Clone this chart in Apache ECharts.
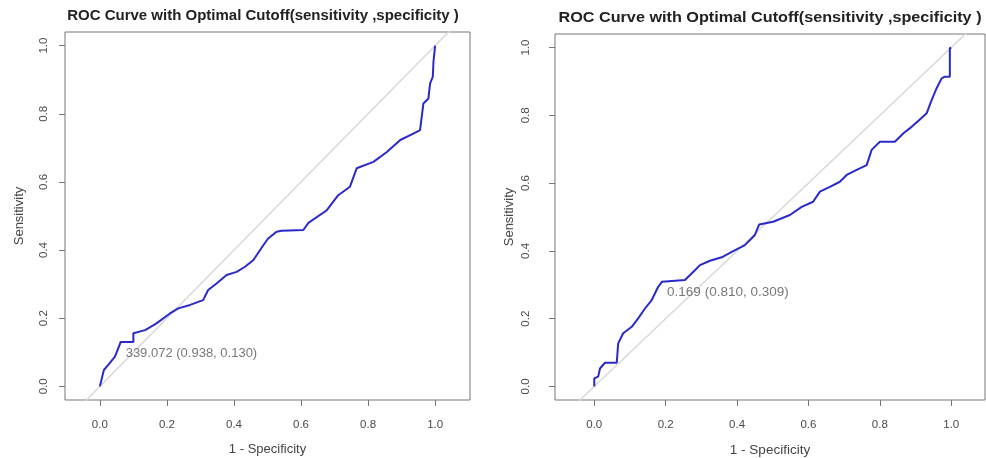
<!DOCTYPE html>
<html>
<head>
<meta charset="utf-8">
<script src="https://cdn.jsdelivr.net/npm/echarts@6/dist/echarts.min.js"></script>
<style>
html,body{margin:0;padding:0;background:#fff;}
#chart{width:986px;height:458px;}
</style>
</head>
<body>
<div id="chart"></div>
<script>
// ---- data ----
const titleText = 'ROC Curve with Optimal Cutoff(sensitivity ,specificity )';
const xAxisName = '1 - Specificity';
const yAxisName = 'Sensitivity';
const tickValues = [0, 0.2, 0.4, 0.6, 0.8, 1.0];
const diagonalEnds = [-0.3, 1.3];

// left panel ROC (x = 1 - specificity, y = sensitivity)
const leftFpr = [0, 0.012, 0.025, 0.045, 0.062, 0.100, 0.100, 0.135, 0.169, 0.209, 0.234, 0.269, 0.308, 0.323, 0.348, 0.378, 0.408, 0.433, 0.458, 0.488, 0.502, 0.527, 0.542, 0.607, 0.622, 0.677, 0.711, 0.746, 0.766, 0.816, 0.856, 0.896, 0.935, 0.955, 0.965, 0.980, 0.985, 0.993, 0.995, 1.0];
const leftTpr = [0, 0.048, 0.063, 0.087, 0.130, 0.130, 0.156, 0.165, 0.185, 0.214, 0.229, 0.239, 0.253, 0.283, 0.302, 0.327, 0.336, 0.351, 0.371, 0.415, 0.434, 0.454, 0.457, 0.459, 0.480, 0.517, 0.561, 0.586, 0.640, 0.659, 0.688, 0.723, 0.742, 0.752, 0.830, 0.845, 0.889, 0.908, 0.952, 1.0];
const leftCutoffThreshold = '339.072';
const leftCutoffSpec = 0.938;
const leftCutoffSens = 0.130;

// right panel ROC
const rightFpr = [0, 0, 0.011, 0.016, 0.030, 0.063, 0.067, 0.081, 0.105, 0.123, 0.142, 0.161, 0.179, 0.190, 0.254, 0.282, 0.296, 0.324, 0.357, 0.385, 0.422, 0.450, 0.462, 0.501, 0.548, 0.581, 0.613, 0.632, 0.660, 0.688, 0.707, 0.735, 0.763, 0.777, 0.800, 0.842, 0.866, 0.889, 0.912, 0.931, 0.945, 0.959, 0.973, 0.982, 0.996, 0.996, 1.0];
const rightTpr = [0, 0.024, 0.029, 0.053, 0.070, 0.070, 0.127, 0.157, 0.176, 0.201, 0.230, 0.255, 0.294, 0.309, 0.314, 0.343, 0.358, 0.371, 0.381, 0.397, 0.417, 0.447, 0.478, 0.486, 0.506, 0.530, 0.545, 0.575, 0.589, 0.604, 0.624, 0.639, 0.653, 0.698, 0.722, 0.722, 0.747, 0.766, 0.788, 0.806, 0.845, 0.880, 0.909, 0.914, 0.914, 0.998, 1.0];
const rightCutoffThreshold = '0.169';
const rightCutoffSpec = 0.810;
const rightCutoffSens = 0.309;

// ---- build ----
const zip = (a, b) => a.map((v, i) => [v, b[i]]);
const fmt = v => v.toFixed(3);
const FONT = '"Liberation Sans", Arial, sans-serif';
const LABEL_COLOR = '#4a4a4a';

function xAx(idx, min, max, nameSize) {
  return {
    type: 'value', gridIndex: idx, min: min, max: max,
    name: xAxisName, nameLocation: 'middle', nameGap: 43,
    nameTextStyle: {fontFamily: FONT, fontSize: nameSize, color: '#444'},
    axisLine: {show: false, onZero: false},
    axisTick: {show: true, customValues: tickValues, length: 6, lineStyle: {color: '#777'}},
    axisLabel: {customValues: tickValues, formatter: v => v.toFixed(1), margin: 19,
      fontFamily: FONT, fontSize: 11.5, color: LABEL_COLOR},
    splitLine: {show: false}
  };
}
function yAx(idx, margin, nameGap) {
  return {
    type: 'value', gridIndex: idx, min: -0.04, max: 1.04,
    name: yAxisName, nameLocation: 'middle', nameGap: nameGap, nameRotate: 90,
    nameTextStyle: {fontFamily: FONT, fontSize: 13, color: '#444'},
    axisLine: {show: false, onZero: false},
    axisTick: {show: true, customValues: tickValues, length: 6, lineStyle: {color: '#777'}},
    axisLabel: {customValues: tickValues, formatter: v => v.toFixed(1), margin: margin, rotate: 90,
      fontFamily: FONT, fontSize: 11.5, color: LABEL_COLOR},
    splitLine: {show: false}
  };
}
function panelSeries(idx, fpr, tpr, thr, spec, sens, fs) {
  return [
    {
      type: 'line', xAxisIndex: idx, yAxisIndex: idx, clip: true, silent: true,
      data: [[diagonalEnds[0], diagonalEnds[0]], [diagonalEnds[1], diagonalEnds[1]]],
      symbol: 'none', lineStyle: {color: '#d9d9d9', width: 1.5}, z: 1
    },
    {
      type: 'line', xAxisIndex: idx, yAxisIndex: idx, clip: true,
      data: zip(fpr, tpr), symbol: 'none',
      lineStyle: {color: '#2a2ac8', width: 2}, z: 3
    },
    {
      type: 'scatter', xAxisIndex: idx, yAxisIndex: idx,
      data: [[1 - spec, sens]], symbolSize: 2,
      itemStyle: {color: '#2a2ac8'},
      label: {show: true, position: 'right', distance: 4, offset: [0, 11],
        formatter: thr + ' (' + fmt(spec) + ', ' + fmt(sens) + ')',
        fontFamily: FONT, fontSize: fs, color: '#555'},
      z: 4
    }
  ];
}

const chart = echarts.init(document.getElementById('chart'), null, {renderer: 'canvas'});
chart.setOption({
  backgroundColor: '#fff',
  animation: false,
  grid: [
    {left: 65, right: 516, top: 32, bottom: 58, outerBoundsMode: 'none', containLabel: false, show: true, borderColor: '#777', borderWidth: 1, backgroundColor: 'transparent'},
    {left: 555, right: 1, top: 34, bottom: 58, outerBoundsMode: 'none', containLabel: false, show: true, borderColor: '#777', borderWidth: 1, backgroundColor: 'transparent'}
  ],
  xAxis: [xAx(0, -0.104, 1.104, 13), xAx(1, -0.11, 1.0945, 13.5)],
  yAxis: [yAx(0, 15, 39), yAx(1, 23, 39)],
  graphic: [
    {type: 'text', x: 263, y: 16, style: {text: titleText, font: 'bold 15px ' + FONT, fill: '#222', textAlign: 'center', textVerticalAlign: 'middle'}},
    {type: 'text', x: 770, y: 18, scaleX: 1.08, originX: 0, originY: 0, style: {text: titleText, font: 'bold 15px ' + FONT, fill: '#222', textAlign: 'center', textVerticalAlign: 'middle'}}
  ],
  series: [].concat(
    panelSeries(0, leftFpr, leftTpr, leftCutoffThreshold, leftCutoffSpec, leftCutoffSens, 13),
    panelSeries(1, rightFpr, rightTpr, rightCutoffThreshold, rightCutoffSpec, rightCutoffSens, 13.5)
  )
});
</script>
</body>
</html>
